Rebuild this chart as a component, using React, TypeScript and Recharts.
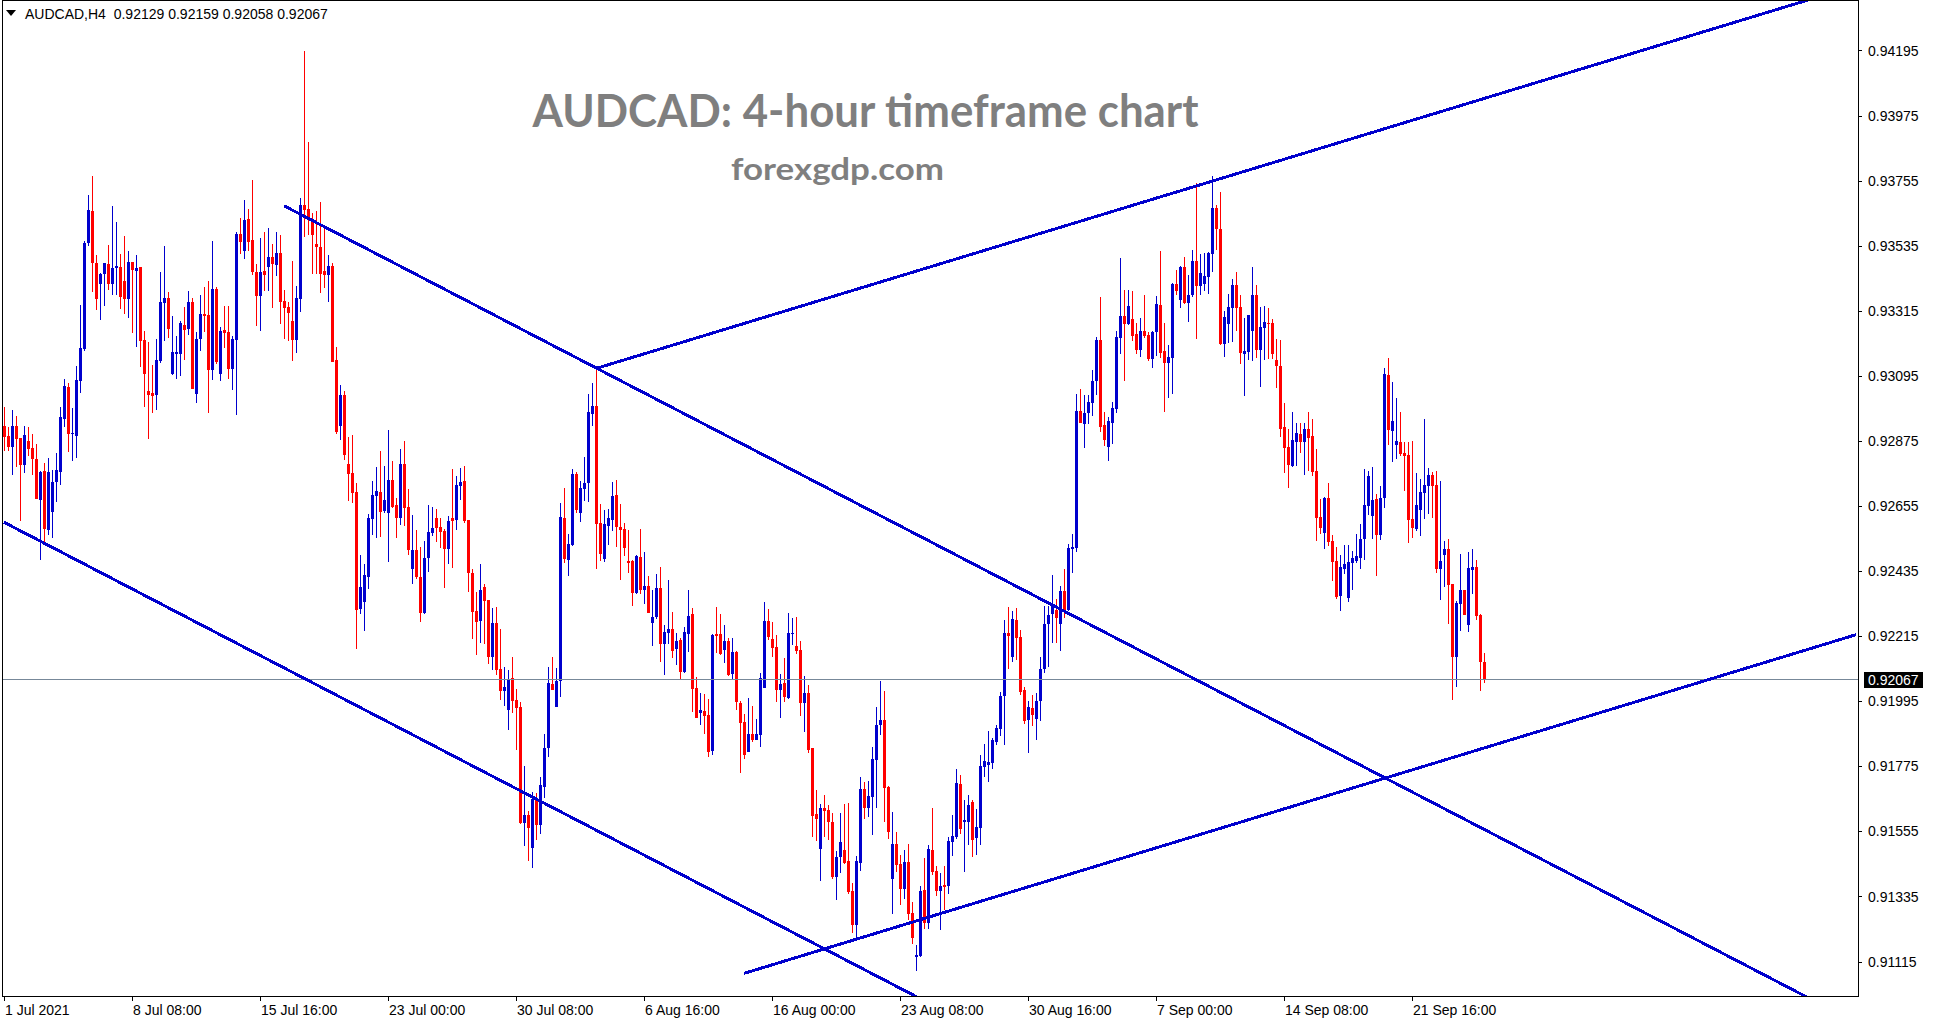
import React from 'react';
import { ComposedChart, Bar, XAxis, YAxis, ReferenceLine } from 'recharts';

// ---------- chart text ----------
const SYMBOL = 'AUDCAD';
const TIMEFRAME = 'H4';
const TITLE = 'AUDCAD: 4-hour timeframe chart';
const SUBTITLE = 'forexgdp.com';

// ---------- candle data, prices in points (1 point = 0.00001) ----------
const POINT = 0.00001;

const OPEN = [
  92926, 92892, 92856, 92926, 92885, 92795, 92875, 92851, 92814, 92675,
  92772, 92574, 92636, 92736, 92770, 92950, 93056, 92899, 92892, 93079,
  93185, 93545, 93653, 93476, 93406, 93440, 93473, 93407, 93458, 93463,
  93416, 93356, 93480, 93451, 93463, 93216, 93044, 93038, 93031, 93145,
  93342, 93359, 93101, 93168, 93168, 93267, 93254, 93344, 93034, 93219,
  93304, 93300, 93114, 93388, 93101, 93250, 93243, 93118, 93217, 93574,
  93518, 93625, 93554, 93446, 93364, 93449, 93463, 93496, 93469, 93510,
  93348, 93327, 93280, 93217, 93354, 93674, 93658, 93626, 93541, 93529,
  93449, 93437, 93465, 93148, 92927, 93031, 92798, 92766, 92702, 92308,
  92332, 92416, 92612, 92690, 92702, 92638, 92632, 92743, 92658, 92614,
  92797, 92651, 92443, 92505, 92416, 92294, 92480, 92564, 92614, 92583,
  92572, 92509, 92614, 92608, 92723, 92739, 92607, 92430, 92299, 92267,
  92381, 92337, 92145, 92259, 92104, 92030, 91966, 92073, 91999, 91975,
  91583, 91609, 91500, 91664, 91577, 91706, 91837, 92053, 91976, 92065,
  92614, 92473, 92523, 92763, 92631, 92713, 92732, 92967, 92993, 92597,
  92475, 92587, 92607, 92692, 92584, 92577, 92469, 92469, 92360, 92482,
  92371, 92384, 92259, 92279, 92377, 92189, 92225, 92239, 92171, 92202,
  92093, 92222, 92289, 92039, 91956, 91963, 91949, 91827, 92222, 92222,
  92169, 92198, 92087, 92162, 91990, 91925, 91824, 91886, 91864, 91882,
  92041, 92266, 92205, 92178, 92034, 92057, 92005, 92223, 92182, 92168,
  91989, 92023, 91837, 91614, 91496, 91634, 91627, 91587, 91402, 91468,
  91492, 91455, 91353, 91239, 91449, 91698, 91635, 91672, 91797, 91915,
  91931, 91705, 91395, 91512, 91445, 91361, 91451, 91279, 91131, 91135,
  91357, 91244, 91492, 91421, 91354, 91374, 91370, 91518, 91536, 91715,
  91587, 91588, 91654, 91533, 91567, 91774, 91779, 91786, 91857, 91901,
  92013, 92226, 92146, 92270, 92212, 92033, 91932, 91973, 91936, 91997,
  92105, 92255, 92289, 92304, 92257, 92368, 92304, 92510, 92513, 92976,
  92931, 92969, 93004, 93076, 93217, 92929, 92855, 92937, 92984, 93222,
  93297, 93269, 93287, 93235, 93184, 93247, 93233, 93152, 93242, 93335,
  93179, 93140, 93156, 93404, 93350, 93462, 93343, 93368, 93483, 93400,
  93407, 93430, 93508, 93663, 93592, 93204, 93271, 93326, 93402, 93328,
  93170, 93177, 93248, 93368, 93184, 93258, 93274, 93274, 93149, 93128,
  92922, 92854, 92791, 92873, 92899, 92873, 92915, 92892, 92773, 92618,
  92565, 92682, 92537, 92469, 92352, 92442, 92345, 92462, 92469, 92480,
  92543, 92655, 92622, 92678, 92557, 92682, 93098, 92908, 92861, 92871,
  92834, 92827, 92612, 92577, 92641, 92699, 92722, 92759, 92726, 92442,
  92491, 92509, 92391, 92144, 92324, 92371, 92253, 92438, 92448, 92288,
  92129,
];

const HIGH = [
  92991, 92923, 92980, 92960, 92885, 92926, 92923, 92899, 92865, 92773,
  92799, 92817, 92777, 92835, 92990, 93085, 93072, 92988, 93129, 93333,
  93551, 93707, 93771, 93503, 93444, 93476, 93538, 93670, 93615, 93507,
  93568, 93517, 93480, 93504, 93463, 93247, 93209, 93131, 93221, 93446,
  93534, 93378, 93297, 93229, 93280, 93328, 93381, 93358, 93243, 93368,
  93395, 93415, 93550, 93395, 93261, 93331, 93331, 93229, 93581, 93629,
  93689, 93659, 93757, 93473, 93561, 93582, 93594, 93540, 93581, 93571,
  93385, 93344, 93483, 93398, 93695, 94193, 93885, 93646, 93652, 93682,
  93595, 93503, 93476, 93193, 93063, 93043, 92888, 92894, 92733, 92489,
  92459, 92627, 92739, 92786, 92841, 92790, 92912, 92806, 92682, 92848,
  92874, 92711, 92624, 92574, 92516, 92536, 92660, 92652, 92646, 92614,
  92578, 92620, 92780, 92755, 92785, 92790, 92607, 92441, 92364, 92458,
  92391, 92337, 92310, 92313, 92239, 92110, 92101, 92144, 92037, 91992,
  91775, 91625, 91687, 91684, 91738, 91884, 92110, 92144, 92108, 92665,
  92715, 92561, 92780, 92770, 92739, 92820, 93033, 93070, 93114, 92661,
  92641, 92644, 92736, 92742, 92661, 92597, 92573, 92472, 92489, 92577,
  92499, 92418, 92371, 92425, 92448, 92252, 92404, 92296, 92225, 92208,
  92245, 92371, 92310, 92076, 92022, 92019, 92003, 92222, 92313, 92289,
  92252, 92208, 92208, 92164, 91996, 91952, 92005, 91979, 91935, 92090,
  92330, 92307, 92263, 92219, 92087, 92141, 92293, 92276, 92280, 92199,
  92080, 92050, 91837, 91695, 91647, 91678, 91644, 91618, 91488, 91618,
  91647, 91651, 91379, 91472, 91739, 91722, 91725, 91840, 91975, 92064,
  92029, 91707, 91620, 91553, 91475, 91492, 91512, 91316, 91172, 91370,
  91465, 91509, 91634, 91438, 91414, 91438, 91536, 91610, 91766, 91745,
  91661, 91678, 91661, 91631, 91813, 91850, 91894, 91871, 91915, 92026,
  92270, 92314, 92300, 92310, 92236, 92043, 91996, 92016, 92023, 92144,
  92316, 92316, 92422, 92341, 92386, 92442, 92525, 92562, 93035, 93049,
  93029, 93029, 93115, 93226, 93362, 92974, 92955, 93008, 93247, 93494,
  93385, 93385, 93382, 93275, 93291, 93368, 93243, 93247, 93365, 93518,
  93275, 93201, 93408, 93453, 93467, 93498, 93436, 93521, 93746, 93507,
  93510, 93514, 93771, 93673, 93717, 93314, 93372, 93423, 93446, 93368,
  93291, 93301, 93463, 93402, 93329, 93331, 93326, 93287, 93221, 93216,
  93004, 92915, 92973, 92936, 92937, 92937, 92973, 92949, 92849, 92678,
  92685, 92733, 92557, 92516, 92489, 92523, 92523, 92503, 92560, 92594,
  92780, 92772, 92787, 92695, 92722, 93121, 93155, 93074, 93020, 92972,
  92871, 92871, 92874, 92766, 92746, 92949, 92783, 92770, 92773, 92739,
  92536, 92543, 92391, 92333, 92492, 92371, 92499, 92509, 92472, 92291,
  92159,
];

const LOW = [
  92842, 92842, 92761, 92786, 92606, 92768, 92824, 92761, 92680, 92474,
  92522, 92558, 92548, 92670, 92726, 92923, 92838, 92808, 92819, 93038,
  93179, 93535, 93380, 93319, 93285, 93332, 93385, 93367, 93369, 93321,
  93304, 93292, 93241, 93194, 93126, 92991, 92883, 92970, 92979, 93139,
  93213, 93224, 93097, 93085, 93095, 93148, 93234, 93051, 93004, 93180,
  93243, 92970, 93080, 93135, 93078, 93189, 93084, 93047, 92963, 93506,
  93490, 93517, 93435, 93263, 93246, 93381, 93381, 93324, 93432, 93270,
  93219, 93212, 93145, 93172, 93310, 93564, 93572, 93440, 93440, 93376,
  93392, 93344, 93143, 92898, 92878, 92810, 92671, 92666, 92173, 92290,
  92233, 92374, 92558, 92546, 92551, 92631, 92465, 92648, 92548, 92590,
  92586, 92489, 92392, 92409, 92263, 92290, 92433, 92555, 92533, 92513,
  92378, 92458, 92446, 92574, 92676, 92596, 92365, 92206, 92152, 92192,
  92189, 92121, 92101, 92084, 92000, 91979, 91898, 91956, 91831, 91580,
  91507, 91455, 91433, 91527, 91545, 91668, 91807, 92033, 91976, 92010,
  92461, 92419, 92520, 92632, 92602, 92673, 92669, 92926, 92442, 92469,
  92465, 92524, 92570, 92516, 92404, 92486, 92428, 92316, 92357, 92357,
  92323, 92293, 92181, 92273, 92127, 92084, 92188, 92141, 92117, 92070,
  92090, 92161, 91959, 91939, 91915, 91885, 91807, 91814, 92158, 92151,
  92125, 92080, 92066, 91966, 91753, 91801, 91824, 91857, 91864, 91841,
  92041, 92202, 92146, 91993, 91939, 91993, 92001, 92185, 92156, 91946,
  91892, 91821, 91537, 91523, 91388, 91535, 91526, 91395, 91324, 91415,
  91445, 91343, 91212, 91188, 91421, 91598, 91605, 91544, 91635, 91881,
  91588, 91528, 91277, 91419, 91307, 91327, 91255, 91175, 91084, 91131,
  91224, 91224, 91407, 91336, 91223, 91289, 91344, 91473, 91531, 91547,
  91419, 91509, 91469, 91475, 91509, 91740, 91722, 91766, 91847, 91879,
  91848, 92104, 92129, 92134, 92016, 91918, 91821, 91911, 91865, 91929,
  92090, 92110, 92191, 92193, 92166, 92277, 92301, 92427, 92501, 92937,
  92851, 92931, 92960, 93029, 92906, 92859, 92808, 92866, 92970, 93170,
  93076, 93266, 93213, 93170, 93158, 93222, 93146, 93121, 93162, 93157,
  92974, 93020, 93033, 93367, 93324, 93337, 93278, 93363, 93221, 93369,
  93383, 93372, 93447, 93521, 93200, 93160, 93207, 93211, 93248, 93136,
  93028, 93149, 93146, 93157, 93058, 93150, 93153, 93153, 93055, 92889,
  92768, 92717, 92788, 92791, 92835, 92761, 92774, 92758, 92538, 92561,
  92511, 92521, 92403, 92342, 92301, 92425, 92329, 92372, 92464, 92443,
  92471, 92624, 92544, 92419, 92541, 92649, 92861, 92805, 92814, 92824,
  92705, 92530, 92546, 92572, 92554, 92611, 92628, 92614, 92427, 92337,
  92381, 92256, 92000, 92044, 92232, 92286, 92230, 92357, 92270, 92030,
  92058,
];

const CLOSE = [
  92887, 92856, 92926, 92883, 92795, 92894, 92849, 92815, 92680, 92770,
  92577, 92770, 92736, 92776, 92956, 93061, 92899, 92903, 93081, 93188,
  93544, 93656, 93475, 93356, 93440, 93476, 93407, 93461, 93467, 93362,
  93356, 93480, 93453, 93461, 93214, 93103, 93032, 93026, 93148, 93344,
  93359, 93253, 93175, 93175, 93273, 93251, 93344, 93051, 93219, 93304,
  93297, 93114, 93388, 93141, 93246, 93239, 93118, 93219, 93574, 93548,
  93621, 93548, 93446, 93364, 93446, 93435, 93496, 93473, 93510, 93344,
  93324, 93307, 93217, 93359, 93674, 93655, 93628, 93572, 93529, 93440,
  93437, 93465, 93143, 92906, 93032, 92826, 92763, 92699, 92304, 92381,
  92421, 92614, 92691, 92706, 92635, 92675, 92743, 92652, 92614, 92797,
  92648, 92507, 92505, 92416, 92294, 92479, 92567, 92580, 92580, 92568,
  92511, 92604, 92605, 92725, 92736, 92605, 92430, 92297, 92263, 92370,
  92334, 92145, 92259, 92101, 92030, 92043, 92070, 91996, 91973, 91583,
  91609, 91566, 91664, 91577, 91711, 91836, 92056, 92033, 92065, 92617,
  92476, 92526, 92763, 92642, 92715, 92732, 92972, 92993, 92595, 92493,
  92594, 92614, 92688, 92584, 92573, 92513, 92463, 92360, 92486, 92371,
  92384, 92293, 92279, 92377, 92189, 92229, 92239, 92164, 92198, 92093,
  92229, 92283, 92037, 91939, 91966, 91946, 91824, 92218, 92215, 92154,
  92198, 92083, 92161, 91993, 91922, 91814, 91886, 91864, 91884, 92073,
  92266, 92213, 92176, 92034, 92053, 92010, 92226, 92226, 92165, 91989,
  92023, 91831, 91607, 91598, 91634, 91625, 91588, 91401, 91468, 91519,
  91449, 91350, 91238, 91455, 91698, 91635, 91675, 91800, 91915, 91931,
  91703, 91554, 91512, 91442, 91361, 91451, 91277, 91196, 91136, 91353,
  91244, 91495, 91418, 91353, 91370, 91368, 91522, 91539, 91718, 91564,
  91593, 91644, 91527, 91570, 91776, 91793, 91789, 91864, 91904, 92013,
  92226, 92215, 92273, 92210, 92027, 91929, 91975, 91948, 91996, 92105,
  92255, 92287, 92324, 92277, 92368, 92304, 92513, 92516, 92976, 92937,
  92970, 93008, 93078, 93217, 92923, 92879, 92941, 92986, 93227, 93297,
  93269, 93330, 93229, 93184, 93247, 93229, 93152, 93242, 93337, 93174,
  93140, 93159, 93404, 93383, 93464, 93341, 93368, 93483, 93400, 93443,
  93433, 93510, 93663, 93592, 93204, 93295, 93329, 93402, 93326, 93173,
  93180, 93301, 93368, 93184, 93260, 93277, 93271, 93170, 93129, 92916,
  92852, 92795, 92878, 92902, 92873, 92915, 92886, 92771, 92616, 92582,
  92682, 92534, 92467, 92347, 92448, 92459, 92465, 92478, 92486, 92543,
  92658, 92756, 92675, 92557, 92682, 93101, 92912, 92942, 92874, 92831,
  92824, 92607, 92580, 92658, 92702, 92726, 92759, 92723, 92442, 92469,
  92509, 92388, 92144, 92328, 92371, 92287, 92445, 92448, 92284, 92128,
  92067,
];

// empty bar slots to the right of the last candle (chart shift)
const FUTURE_BARS = 93;

// time axis labels, one every 32 bars starting at bar 0
const TIME_LABELS = [
  '1 Jul 2021', '8 Jul 08:00', '15 Jul 16:00', '23 Jul 00:00', '30 Jul 08:00', '6 Aug 16:00',
  '16 Aug 00:00', '23 Aug 08:00', '30 Aug 16:00', '7 Sep 00:00', '14 Sep 08:00', '21 Sep 16:00',
];
const TIME_LABEL_STEP = 32;

// price axis
const PRICE_TICKS = [
  0.94195, 0.93975, 0.93755, 0.93535, 0.93315, 0.93095, 0.92875, 0.92655,
  0.92435, 0.92215, 0.91995, 0.91775, 0.91555, 0.91335, 0.91115,
];
const PRICE_MIN = 0.909986;
const PRICE_MAX = 0.943623;

// trend lines: [bar index, price] pairs
const TRENDLINES: [number, number][][] = [
  [[148, 0.9312], [463, 0.94415]],
  [[70, 0.9367], [452, 0.90986]],
  [[0, 0.926], [230, 0.90983]],
  [[185, 0.91075], [463, 0.9222]],
];

// ---------- styles ----------
const W = 1933;
const H = 1023;
const Y_AXIS_W = 75;
const X_AXIS_H = 27;
const PLOT_L = 2;
const PLOT_T = 1;
const PLOT_R = W - Y_AXIS_W;
const PLOT_B = H - X_AXIS_H;
const BULL = '#0000CD';
const BEAR = '#FF0000';
const TREND = '#0000CD';
const BID_LINE = '#778899';
const AXIS_FONT = '"Liberation Sans", Arial, sans-serif';
const TITLE_FONT = 'Lato, "Open Sans", sans-serif';
const TITLE_COLOR = '#7F7F7F';

const LAST = OPEN.length - 1;
const LAST_PRICE = CLOSE[LAST] * POINT;
const fmt = (v: number) => v.toFixed(5);

type Row = { i: number; o?: number; h?: number; l?: number; c?: number; range?: [number, number] };

const data: Row[] = [];
for (let i = 0; i < OPEN.length + FUTURE_BARS; i++) {
  if (i < OPEN.length) {
    data.push({
      i,
      o: OPEN[i] * POINT,
      h: HIGH[i] * POINT,
      l: LOW[i] * POINT,
      c: CLOSE[i] * POINT,
      range: [LOW[i] * POINT, HIGH[i] * POINT],
    });
  } else {
    data.push({ i });
  }
}

const TIME_TICKS = TIME_LABELS.map((_, k) => k * TIME_LABEL_STEP);
const labelFor: Record<number, string> = {};
TIME_LABELS.forEach((t, k) => {
  labelFor[k * TIME_LABEL_STEP] = t;
});

function Candle(props: any) {
  const { x, y, width, height, payload } = props;
  if (!payload || payload.o == null || x == null || y == null) return null;
  const { o, h, l, c } = payload as Required<Row>;
  const top = Math.min(y, y + height);
  const span = Math.abs(height);
  const ppu = h > l ? span / (h - l) : 0;
  const py = (v: number) => top + (h - v) * ppu;
  const cx = Math.round(x + width / 2);
  const color = c >= o ? BULL : BEAR;
  const wTop = Math.round(top);
  const wBot = Math.round(top + span);
  const yo = py(o);
  const yc = py(c);
  const bTop = Math.round(Math.min(yo, yc));
  const bBot = Math.round(Math.max(yo, yc));
  return (
    <g>
      <rect x={cx} y={wTop} width={1} height={Math.max(1, wBot - wTop)} fill={color} />
      <rect x={cx - 1} y={bTop} width={3} height={Math.max(1, bBot - bTop)} fill={color} />
    </g>
  );
}

function PriceTick(props: any) {
  const { y, payload } = props;
  const yy = Math.round(y) + 0.5;
  return (
    <g>
      <line x1={PLOT_R} x2={PLOT_R + 4} y1={yy} y2={yy} stroke="#000" strokeWidth={1} />
      <text x={PLOT_R + 10} y={y} dy="0.36em" fontSize={14} fontFamily={AXIS_FONT} fill="#000">
        {fmt(payload.value)}
      </text>
    </g>
  );
}

function TimeTick(props: any) {
  const { x, payload } = props;
  const xx = Math.round(x);
  const label = labelFor[payload.value];
  if (label == null) return null;
  return (
    <g>
      <line x1={xx + 0.5} x2={xx + 0.5} y1={PLOT_B} y2={PLOT_B + 5} stroke="#000" strokeWidth={1} />
      <text x={xx + 1} y={PLOT_B + 18.5} fontSize={14} fontFamily={AXIS_FONT} fill="#000">
        {label}
      </text>
    </g>
  );
}

function PriceBox(props: any) {
  const vb = props.viewBox || {};
  const cy = Math.round(vb.y ?? 0);
  const x0 = PLOT_R + 6;
  return (
    <g>
      <rect x={x0} y={cy - 8} width={59} height={16} fill="#000" />
      <text x={x0 + 4} y={cy} dy="0.36em" fontSize={14} fontFamily={AXIS_FONT} fill="#fff">
        {fmt(LAST_PRICE)}
      </text>
    </g>
  );
}

export default function App() {
  const legend = `${SYMBOL},${TIMEFRAME}  ${fmt(OPEN[LAST] * POINT)} ${fmt(HIGH[LAST] * POINT)} ${fmt(
    LOW[LAST] * POINT,
  )} ${fmt(CLOSE[LAST] * POINT)}`;
  return (
    <div style={{ position: 'absolute', left: 0, top: 0, width: W, height: H, overflow: 'hidden', background: '#fff' }}>
      <ComposedChart
        width={W}
        height={H}
        data={data}
        margin={{ top: PLOT_T, right: 0, bottom: 0, left: PLOT_L }}
        barCategoryGap={0}
        barGap={0}
      >
        <XAxis
          dataKey="i"
          type="category"
          ticks={TIME_TICKS}
          interval={0}
          tick={<TimeTick />}
          tickLine={false}
          axisLine={false}
          height={X_AXIS_H}
        />
        <YAxis
          orientation="right"
          type="number"
          domain={[PRICE_MIN, PRICE_MAX]}
          allowDataOverflow
          ticks={PRICE_TICKS}
          interval={0}
          tick={<PriceTick />}
          tickLine={false}
          axisLine={false}
          width={Y_AXIS_W}
        />
        <ReferenceLine
          y={LAST_PRICE}
          stroke={BID_LINE}
          strokeWidth={1}
          shapeRendering="crispEdges"
          label={(p: any) => <PriceBox {...p} />}
        />
        <Bar dataKey="range" isAnimationActive={false} shape={(p: any) => <Candle {...p} />} />
        {TRENDLINES.map((seg, k) => (
          <ReferenceLine
            key={k}
            segment={[
              { x: seg[0][0], y: seg[0][1] },
              { x: seg[1][0], y: seg[1][1] },
            ]}
            stroke={TREND}
            strokeWidth={3}
            ifOverflow="hidden"
            shapeRendering="crispEdges"
          />
        ))}
      </ComposedChart>
      <svg
        width={W}
        height={H}
        style={{ position: 'absolute', left: 0, top: 0, pointerEvents: 'none' }}
      >
        <rect
          x={PLOT_L + 0.5}
          y={0.5}
          width={PLOT_R - PLOT_L}
          height={PLOT_B - 0.5}
          fill="none"
          stroke="#000"
          strokeWidth={1}
          shapeRendering="crispEdges"
        />
        <polygon points="6,10 16,10 11,16" fill="#000" />
        <text x={25} y={19} fontSize={14} fontFamily={AXIS_FONT} fill="#000" style={{ whiteSpace: 'pre' }}>
          {legend}
        </text>
        <text
          x={865.5}
          y={127}
          textAnchor="middle"
          fontSize={46}
          fontWeight={700}
          fontFamily={TITLE_FONT}
          fill={TITLE_COLOR}
          textLength={666}
          lengthAdjust="spacingAndGlyphs"
        >
          {TITLE}
        </text>
        <text
          x={837.5}
          y={180}
          textAnchor="middle"
          fontSize={31}
          fontWeight={700}
          fontFamily={TITLE_FONT}
          fill={TITLE_COLOR}
          textLength={213}
          lengthAdjust="spacingAndGlyphs"
        >
          {SUBTITLE}
        </text>
      </svg>
    </div>
  );
}
